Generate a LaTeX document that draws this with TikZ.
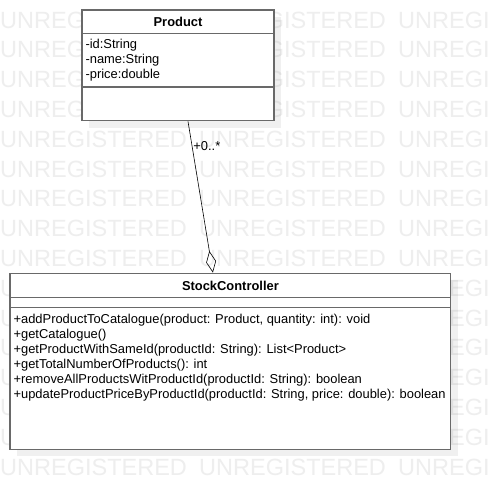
\documentclass[tikz,border=0pt]{standalone}
\usepackage{fontspec}
\setmainfont{Liberation Sans}
\usetikzlibrary{arrows.meta,shadows}
\definecolor{boxline}{RGB}{105,105,105}
\definecolor{wmgray}{RGB}{238,238,238}
\tikzset{
	classbox/.style={draw=boxline, line width=1.3pt, fill=white, inner sep=0pt,
		drop shadow={shadow xshift=7pt, shadow yshift=-7pt, fill=black, opacity=0.06}},
	classline/.style={draw=boxline, line width=1.3pt},
	classname/.style={font=\fontsize{12.9}{15}\selectfont\bfseries, inner sep=0pt},
	members/.style={font=\fontsize{12.9}{15}\selectfont, align=left, anchor=north west, inner sep=0pt},
	wmark/.style={text=wmgray, font=\fontsize{23.5}{28}\selectfont, anchor=base west, inner sep=0pt},
	aggr/.style={-{Diamond[open, length=22pt, width=10pt, line width=0.6pt]}, line width=0.6pt}
}
\begin{document}
\begin{tikzpicture}[x=1pt,y=-1pt]
		\useasboundingbox[fill=white] (0,0) rectangle (490,490);
		\foreach \r in {0,...,15}
			\foreach \c in {0,1,2}
				\node[wmark] (wm\r-\c) at (199*\c, 28+29.8*\r) {UNREGISTERED};
		\node[classbox, minimum width=192pt, minimum height=110.7pt] (prod) at (178,65.4) {};
		\node[classname] (prodname) at ([yshift=-12.2pt]prod.north) {Product};
		\draw[classline] ([yshift=-24.3pt]prod.north west) -- ([yshift=-24.3pt]prod.north east);
		\draw[classline] ([yshift=-77.7pt]prod.north west) -- ([yshift=-77.7pt]prod.north east);
		\node[members] (prodattr) at ([xshift=4pt,yshift=-30pt]prod.north west)
			{-id:String\\-name:String\\-price:double};
		\node[classbox, minimum width=440.7pt, minimum height=176pt] (stock) at (230.4,361.3) {};
		\node[classname] (stockname) at ([yshift=-13.4pt]stock.north) {StockController};
		\draw[classline] ([yshift=-25pt]stock.north west) -- ([yshift=-25pt]stock.north east);
		\draw[classline] ([yshift=-35pt]stock.north west) -- ([yshift=-35pt]stock.north east);
		\node[members] (stockops) at ([xshift=4pt,yshift=-41.7pt]stock.north west)
			{+addProductToCatalogue(product: Product, quantity: int): void\\
			+getCatalogue()\\
			+getProductWithSameId(productId: String): List<Product>\\
			+getTotalNumberOfProducts(): int\\
			+removeAllProductsWitProductId(productId: String): boolean\\
			+updateProductPriceByProductId(productId: String, price: double): boolean};
		\draw[aggr] ([xshift=10pt]prod.south) -- node[pos=0.164, anchor=west, inner sep=1pt,
			font=\fontsize{12.9}{15}\selectfont] (mult) {+0..*} ([xshift=-17.5pt]stock.north);
	\end{tikzpicture}
\end{document}
